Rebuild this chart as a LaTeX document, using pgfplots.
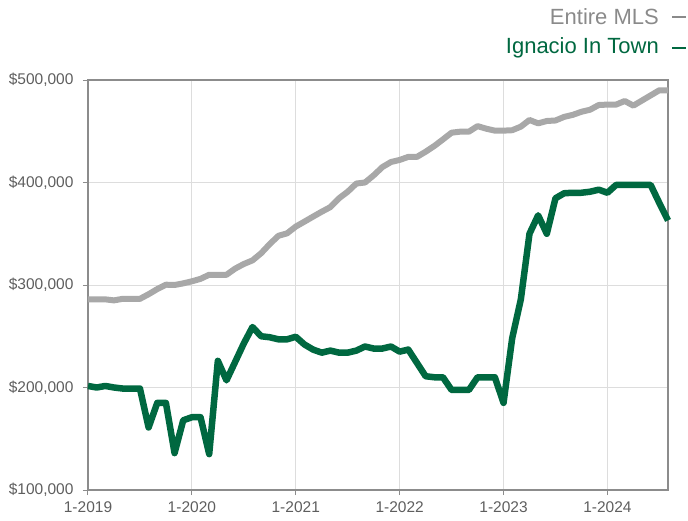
\documentclass[border=0pt]{standalone}
\usepackage{pgfplots}
\pgfplotsset{compat=1.18}
\usepackage{fontspec}
\setmainfont{Liberation Sans}
\definecolor{mlsgray}{HTML}{A8A8A8}
\definecolor{ignacio}{HTML}{006840}
\definecolor{ticktext}{HTML}{5E5E5E}
\definecolor{legendgray}{HTML}{8A8A8A}
\definecolor{gridc}{HTML}{DDDDDD}
\definecolor{axisc}{HTML}{8C8C8C}
\begin{document}
\begin{tikzpicture}[x=1pt,y=1pt]
\useasboundingbox (0,0) rectangle (688,520);
\begin{axis}[
  at={(88pt,30pt)}, anchor=south west,
  scale only axis, width=580pt, height=410pt,
  xmin=0, xmax=67, ymin=100000, ymax=500000,
  scaled ticks=false,
  xtick={0,12,24,36,48,60},
  xticklabels={1-2019,1-2020,1-2021,1-2022,1-2023,1-2024},
  ytick={100000,200000,300000,400000,500000},
  yticklabels={{\$100,000},{\$200,000},{\$300,000},{\$400,000},{\$500,000}},
  grid=major, major grid style={gridc, line width=0.9pt},
  axis line style={axisc, line width=1.3pt},
  tick style={axisc, line width=1pt},
  tick align=outside, major tick length=5pt,
  xtick pos=bottom, ytick pos=left,
  tick label style={font=\fontsize{15.5}{17}\selectfont, text=ticktext},
  xticklabel style={yshift=-3pt},
  yticklabel style={xshift=-6pt},
  clip=false,
]
\addplot[mlsgray, line width=6pt, line join=round] coordinates {
(0,286000)(1,286000)(2,286000)(3,285000)(4,286500)(5,286500)(6,286500)(7,291000)(8,296000)(9,300300)
(10,300000)(11,301600)(12,303600)(13,306000)(14,310000)(15,310000)(16,310000)(17,316000)(18,320500)(19,324000)
(20,331000)(21,340000)(22,348000)(23,350400)(24,357000)(25,361800)(26,366700)(27,371500)(28,376000)(29,384600)
(30,391000)(31,399000)(32,400000)(33,407000)(34,415000)(35,420000)(36,422000)(37,425000)(38,425000)(39,430000)
(40,435600)(41,442000)(42,448600)(43,449600)(44,449600)(45,455000)(46,452500)(47,450600)(48,450600)(49,451000)
(50,454500)(51,461000)(52,457700)(53,460000)(54,460500)(55,464000)(56,466000)(57,469000)(58,471000)(59,475600)
(60,476000)(61,476000)(62,479500)(63,475000)(64,480000)(65,485000)(66,490000)(67,490000)
};
\addplot[ignacio, line width=6.5pt, line join=round] coordinates {
(0,201500)(1,200000)(2,201500)(3,200000)(4,199000)(5,199000)(6,199000)(7,161000)(8,185000)(9,185000)
(10,136000)(11,168000)(12,171000)(13,171000)(14,135000)(15,226000)(16,207000)(17,225000)(18,243000)(19,259000)
(20,250000)(21,249000)(22,247000)(23,247000)(24,249500)(25,242000)(26,237000)(27,234000)(28,236000)(29,234000)
(30,234000)(31,236000)(32,240000)(33,238000)(34,238000)(35,240000)(36,235000)(37,237000)(38,224000)(39,211000)
(40,210000)(41,210000)(42,197600)(43,197600)(44,197600)(45,210000)(46,210000)(47,210000)(48,185000)(49,248000)
(50,286000)(51,350000)(52,368000)(53,350000)(54,384600)(55,389500)(56,390000)(57,390000)(58,391000)(59,393000)
(60,390000)(61,397600)(62,397600)(63,397600)(64,397600)(65,397600)(66,380000)(67,363000)
};
\end{axis}
\node[anchor=east, inner sep=0pt, font=\fontsize{22}{24}\selectfont, text=legendgray] at (659,503) {Entire MLS};
\draw[legendgray, line width=1.3pt] (672,503) -- (686,503);
\node[anchor=east, inner sep=0pt, font=\fontsize{22}{24}\selectfont, text=ignacio] at (659,472) {Ignacio In Town};
\draw[ignacio, line width=1.3pt] (672,472) -- (686,472);
\end{tikzpicture}
\end{document}
